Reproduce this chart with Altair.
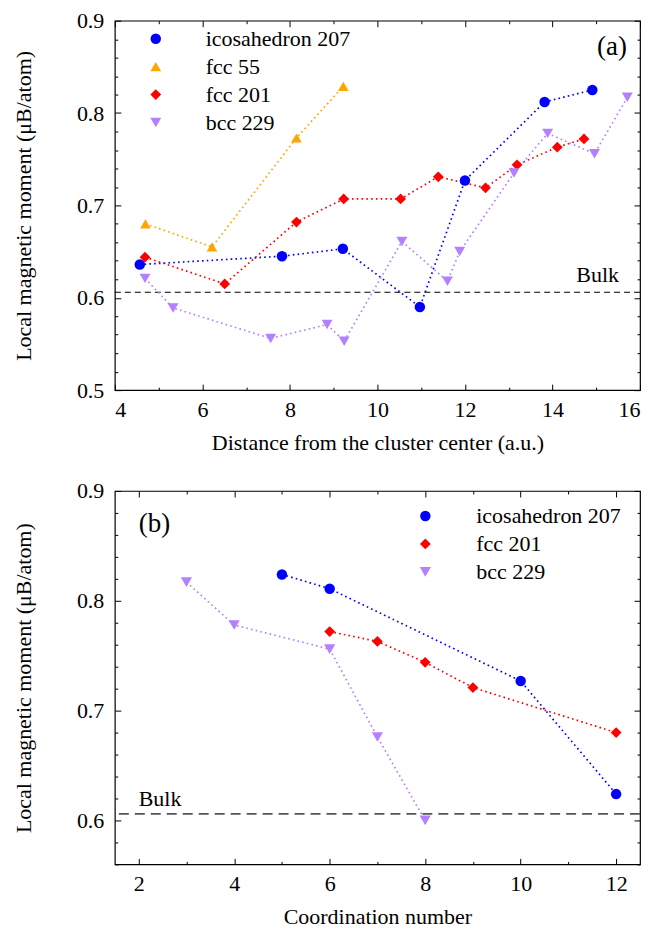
import altair as alt
import pandas as pd

FONT = "Liberation Serif"
FS = 22

# ---------------- Panel (a): distance from the cluster center ----------------
names_a = ["icosahedron 207", "fcc 55", "fcc 201", "bcc 229"]
colors_a = ["#0000ff", "#ffa500", "#ff0000", "#b380ff"]
shapes_a = ["circle", "triangle-up", "diamond", "triangle-down"]
sizes_a = [110, 120, 125, 120]

ico_a_x = [4.57, 7.82, 9.21, 10.97, 12.0, 13.82, 14.91]
ico_a_y = [0.636, 0.645, 0.653, 0.590, 0.727, 0.812, 0.825]
fcc55_a_x = [4.70, 6.22, 8.15, 9.22]
fcc55_a_y = [0.680, 0.655, 0.773, 0.829]
fcc201_a_x = [4.69, 6.51, 8.15, 9.23, 10.53, 11.39, 12.47, 13.19, 14.11, 14.72]
fcc201_a_y = [0.644, 0.615, 0.682, 0.707, 0.707, 0.731, 0.719, 0.744, 0.763, 0.772]
bcc_a_x = [4.69, 5.33, 7.56, 8.85, 9.24, 10.56, 11.60, 11.88, 13.12, 13.89, 14.96, 15.71]
bcc_a_y = [0.621, 0.589, 0.556, 0.571, 0.553, 0.661, 0.618, 0.650, 0.735, 0.778, 0.756, 0.817]

# ---------------- Panel (b): coordination number ----------------
names_b = ["icosahedron 207", "fcc 201", "bcc 229"]
colors_b = ["#0000ff", "#ff0000", "#b380ff"]
shapes_b = ["circle", "diamond", "triangle-down"]
sizes_b = [110, 125, 120]

ico_b_x = [5, 6, 10, 12]
ico_b_y = [0.824, 0.811, 0.727, 0.624]
fcc201_b_x = [6, 7, 8, 9, 12]
fcc201_b_y = [0.772, 0.763, 0.744, 0.721, 0.680]
bcc_b_x = [3, 4, 6, 7, 8]
bcc_b_y = [0.817, 0.778, 0.756, 0.676, 0.600]

bulk_value = 0.606

# axis ticks
xa_major = [4, 6, 8, 10, 12, 14, 16]
xa_minor = [5, 7, 9, 11, 13, 15]
ya_major = [0.5, 0.6, 0.7, 0.8, 0.9]
ya_minor = [0.52, 0.54, 0.56, 0.58, 0.62, 0.64, 0.66, 0.68, 0.72, 0.74, 0.76, 0.78,
            0.82, 0.84, 0.86, 0.88]
xb_major = [2, 4, 6, 8, 10, 12]
xb_minor = [3, 5, 7, 9, 11]
yb_major = [0.6, 0.7, 0.8, 0.9]
yb_minor = [0.56, 0.58, 0.62, 0.64, 0.66, 0.68, 0.72, 0.74, 0.76, 0.78,
            0.82, 0.84, 0.86, 0.88]

# annotations (data coordinates)
bulk_a = {"x": [15.52], "y": [0.617], "t": ["Bulk"]}
bulk_b = {"x": [2.0], "y": [0.6136], "t": ["Bulk"]}
tag_a = {"x": [15.70], "y": [0.871], "t": ["(a)"]}
tag_b = {"x": [2.0], "y": [0.870], "t": ["(b)"]}


def make_df(names, colors, xs, ys):
    rows = []
    for n, c, X, Y in zip(names, colors, xs, ys):
        for i, (x, y) in enumerate(zip(X, Y)):
            rows.append({"series": n, "col": c, "x": x, "y": y, "idx": i})
    return pd.DataFrame(rows)


def ax(orient, values, major, labels=False, title=None, fmt=None, lpad=10, tpad=10):
    size = 6 if major else 3
    kw = dict(orient=orient, values=values, tickSize=size, offset=-size, domain=False,
              grid=False, labels=labels, ticks=True, tickColor="black", tickWidth=1)
    if labels:
        kw.update(labelFont=FONT, labelFontSize=FS, labelColor="black", labelPadding=lpad)
        if fmt:
            kw["format"] = fmt
    if title:
        kw.update(title=title, titleFont=FONT, titleFontSize=FS, titleFontWeight="normal",
                  titleColor="black", titlePadding=tpad)
    else:
        kw["title"] = None
    return alt.Axis(**kw)


def panel(df, names, colors, shapes, sizes, xdom, ydom, xmaj, xmin, ymaj, ymin, xfmt, yfmt,
          xtitle, ytitle, legx, legy, loff, bulk, tag, bulk_align, tag_align,
          bulk_color, bulk_dash, bulk_width, height):
    xs = alt.Scale(domain=xdom, nice=False, zero=False)
    ys = alt.Scale(domain=ydom, nice=False, zero=False)
    leg = alt.Legend(orient="none", legendX=legx, legendY=legy, title=None,
                     labelFont=FONT, labelFontSize=FS, labelColor="black", labelLimit=400,
                     symbolSize=110, symbolStrokeWidth=0, symbolOpacity=1,
                     labelOffset=loff, rowPadding=6, padding=0)
    base = alt.Chart(df)
    lines = base.mark_line(strokeDash=[1.6, 3.2], strokeWidth=1.7).encode(
        x=alt.X("x:Q", scale=xs, axis=ax("bottom", xmaj, True, labels=True, title=xtitle,
                                          fmt=xfmt, lpad=9, tpad=12)),
        y=alt.Y("y:Q", scale=ys, axis=ax("left", ymaj, True, labels=True, title=ytitle,
                                          fmt=yfmt, lpad=11, tpad=41)),
        color=alt.Color("col:N", scale=None),
        detail="series:N",
        order="idx:Q",
    )
    pts = base.mark_point(filled=True, opacity=1).encode(
        x=alt.X("x:Q", axis=ax("top", xmaj, True)),
        y=alt.Y("y:Q", axis=ax("right", ymaj, True)),
        color=alt.Color("series:N", scale=alt.Scale(domain=names, range=colors), legend=leg),
        shape=alt.Shape("series:N", scale=alt.Scale(domain=names, range=shapes), legend=leg),
        size=alt.Size("series:N", scale=alt.Scale(domain=names, range=sizes), legend=None),
    )
    rule = alt.Chart(pd.DataFrame({"b": [bulk_value]})).mark_rule(
        color=bulk_color, strokeDash=bulk_dash, strokeWidth=bulk_width
    ).encode(y=alt.Y("b:Q", axis=None))
    btxt = alt.Chart(pd.DataFrame(bulk)).mark_text(
        align=bulk_align, baseline="alphabetic", font=FONT, fontSize=FS, color="black"
    ).encode(
        x=alt.X("x:Q", axis=ax("bottom", xmin, False)),
        y=alt.Y("y:Q", axis=ax("left", ymin, False)),
        text="t:N",
    )
    ttxt = alt.Chart(pd.DataFrame(tag)).mark_text(
        align=tag_align, baseline="middle", font=FONT, fontSize=27, color="black"
    ).encode(
        x=alt.X("x:Q", axis=ax("top", xmin, False)),
        y=alt.Y("y:Q", axis=ax("right", ymin, False)),
        text="t:N",
    )
    return alt.layer(rule, lines, pts, btxt, ttxt).resolve_axis(
        x="independent", y="independent"
    ).properties(width=526, height=height)


df_a = make_df(names_a, colors_a, [ico_a_x, fcc55_a_x, fcc201_a_x, bcc_a_x],
               [ico_a_y, fcc55_a_y, fcc201_a_y, bcc_a_y])
df_b = make_df(names_b, colors_b, [ico_b_x, fcc201_b_x, bcc_b_x],
               [ico_b_y, fcc201_b_y, bcc_b_y])

ytitle = "Local magnetic moment (μB/atom)"

pa = panel(df_a, names_a, colors_a, shapes_a, sizes_a, [4, 16], [0.5, 0.9], xa_major,
           xa_minor, ya_major, ya_minor, "d", ".1f",
           "Distance from the cluster center (a.u.)", ytitle,
           30, 7, 39, bulk_a, tag_a, "right", "right", "black", [6, 4], 1.2, 370)
pb = panel(df_b, names_b, colors_b, shapes_b, sizes_b, [1.5, 12.5], [0.56, 0.9], xb_major,
           xb_minor, yb_major, yb_minor, "d", ".1f", "Coordination number", ytitle,
           300, 14, 40, bulk_b, tag_b, "left", "left", "#555555", [10, 6], 1.6, 374)

chart = alt.vconcat(pa, pb, spacing=25).resolve_scale(
    x="independent", y="independent", color="independent", shape="independent",
    size="independent"
).resolve_legend(color="independent", shape="independent").properties(
    padding={"left": 3, "top": 0, "right": 5, "bottom": 5}
).configure(
    font=FONT,
    style={
        "guide-label": {"font": FONT, "fill": "black"},
        "guide-title": {"font": FONT, "fill": "black"},
    },
).configure_axis(labelFont=FONT, titleFont=FONT).configure_legend(
    labelFont=FONT
).configure_text(font=FONT).configure_view(stroke="black", strokeWidth=1.2)

chart.save("out.html", embed_options={"renderer": "svg", "actions": False})
